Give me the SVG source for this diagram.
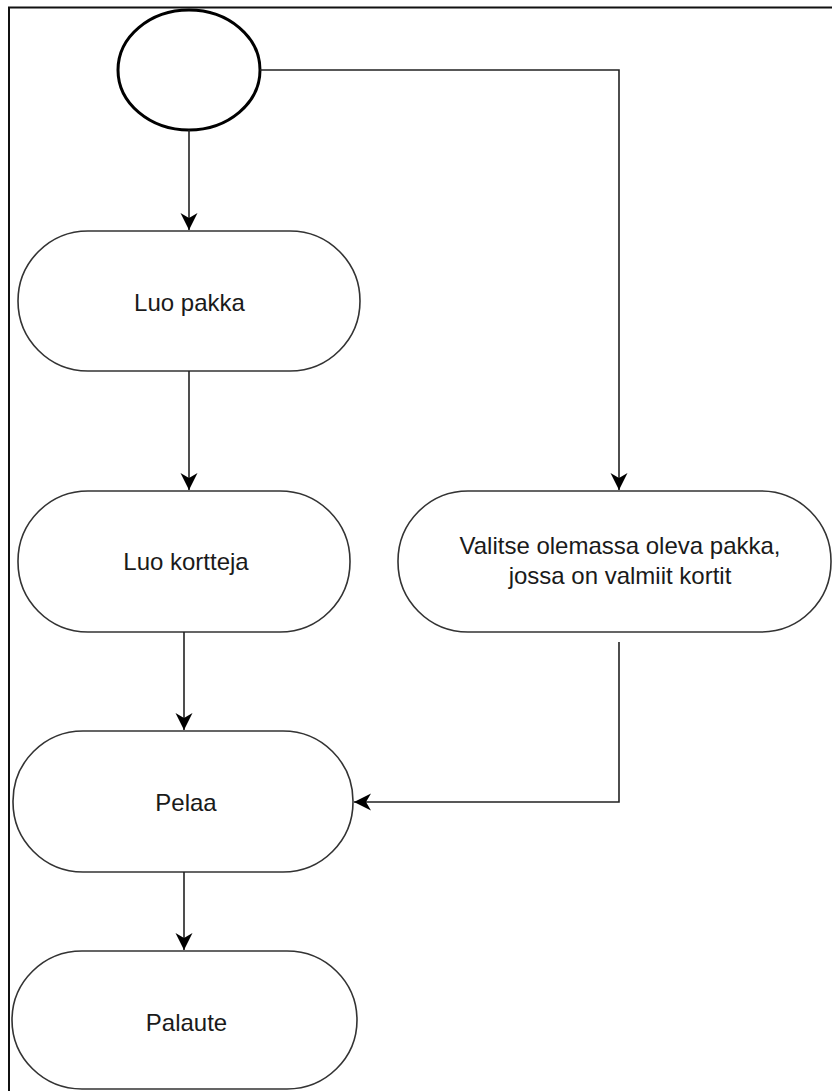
<svg xmlns="http://www.w3.org/2000/svg" width="832" height="1091" viewBox="0 0 832 1091">
<defs>
<marker id="arr" markerUnits="userSpaceOnUse" markerWidth="20" markerHeight="20" viewBox="-18 -10 20 20" refX="0" refY="0" orient="auto">
<path d="M0,0 L-17,-8.5 L-12,0 L-17,8.5 Z" fill="#000"/>
</marker>
<style>
.node{fill:#fff;stroke:#333;stroke-width:1.6}
.lbl{font-family:"Liberation Sans",Arial,sans-serif;font-size:24px;fill:#1a1a1a;text-anchor:middle}
.edge{fill:none;stroke:#222;stroke-width:1.6}
</style>
</defs>
<rect width="832" height="1091" fill="#fff"/>
<path d="M9,1091 V7.5 H832" fill="none" stroke="#111" stroke-width="2"/>
<g id="start"><ellipse cx="189" cy="70" rx="71" ry="60" fill="#fff" stroke="#000" stroke-width="3"/></g>
<g id="luo-pakka"><rect class="node" x="18" y="231" width="342" height="140" rx="70" ry="70"/><text class="lbl" x="189.5" y="311">Luo pakka</text></g>
<g id="luo-kortteja"><rect class="node" x="18" y="491" width="332" height="141" rx="70" ry="70"/><text class="lbl" x="186" y="570">Luo kortteja</text></g>
<g id="valitse"><rect class="node" x="398" y="491" width="433" height="141" rx="70" ry="70"/><text class="lbl" x="620" y="554">Valitse olemassa oleva pakka,</text><text class="lbl" x="620" y="584">jossa on valmiit kortit</text></g>
<g id="pelaa"><rect class="node" x="13" y="731" width="340" height="141" rx="70" ry="70"/><text class="lbl" x="186" y="811">Pelaa</text></g>
<g id="palaute"><rect class="node" x="12" y="951" width="345" height="138" rx="70" ry="69"/><text class="lbl" x="186.5" y="1031">Palaute</text></g>
<g id="connectors">
<path class="edge" d="M189,130 V230" marker-end="url(#arr)"/>
<path class="edge" d="M260,70 H619 V490" marker-end="url(#arr)"/>
<path class="edge" d="M189,371 V490" marker-end="url(#arr)"/>
<path class="edge" d="M184,632 V730" marker-end="url(#arr)"/>
<path class="edge" d="M619,642 V802 H354" marker-end="url(#arr)"/>
<path class="edge" d="M184,872 V950" marker-end="url(#arr)"/>
</g>
</svg>
